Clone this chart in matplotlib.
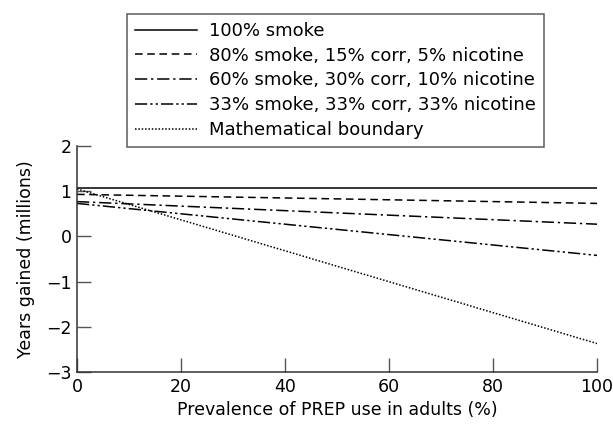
import matplotlib
matplotlib.use('Agg')
import matplotlib.pyplot as plt

# 데이터
prevalence = [0, 100]
smoke_100 = [1.08, 1.08]
smoke_80 = [0.93, 0.73]
smoke_60 = [0.77, 0.27]
smoke_33 = [0.73, -0.42]
boundary = [1.05, -2.37]

labels = ['100% smoke',
          '80% smoke, 15% corr, 5% nicotine',
          '60% smoke, 30% corr, 10% nicotine',
          '33% smoke, 33% corr, 33% nicotine',
          'Mathematical boundary']

plt.rcParams['font.family'] = ['DejaVu Sans']

fig = plt.figure(figsize=(6.13, 4.24), dpi=100)
ax = fig.add_axes([77 / 613, 1 - 372 / 424, (597 - 77) / 613, (372 - 146) / 424])

lw = 1.1
ax.plot(prevalence, smoke_100, color='black', lw=lw, linestyle='-', label=labels[0])
ax.plot(prevalence, smoke_80, color='black', lw=lw, linestyle=(0, (5, 3)), label=labels[1])
ax.plot(prevalence, smoke_60, color='black', lw=lw, linestyle=(0, (8, 2.5, 1.5, 2.5)), label=labels[2])
ax.plot(prevalence, smoke_33, color='black', lw=lw, linestyle=(0, (8, 2, 1.5, 2, 1.5, 2)), label=labels[3])
ax.plot(prevalence, boundary, color='black', lw=lw, linestyle=(0, (1, 1.2)), label=labels[4])

ax.set_xlim(0, 100)
ax.set_ylim(-3, 2)
ax.set_xticks([0, 20, 40, 60, 80, 100])
ax.set_yticks([-3, -2, -1, 0, 1, 2])
ax.spines['top'].set_visible(False)
ax.spines['right'].set_visible(False)
for s in ['left', 'bottom']:
    ax.spines[s].set_color('#333333')
    ax.spines[s].set_linewidth(1.1)
ax.tick_params(direction='in', length=10, width=1, color='#555555', labelsize=12.5, pad=4)
ax.set_xlabel('Prevalence of PREP use in adults (%)', fontsize=12.5)
ax.set_ylabel('Years gained (millions)', fontsize=12.5, labelpad=8)

leg = ax.legend(loc='upper left', bbox_to_anchor=(127 / 613, 1 - 14 / 424),
                bbox_transform=fig.transFigure, fontsize=13, frameon=True,
                fancybox=False, handlelength=3.4, handletextpad=0.7,
                labelspacing=0.37, borderpad=0.45, borderaxespad=0)
leg.get_frame().set_edgecolor('#333333')
leg.get_frame().set_linewidth(1.1)

fig.savefig('out.png', dpi=100)
